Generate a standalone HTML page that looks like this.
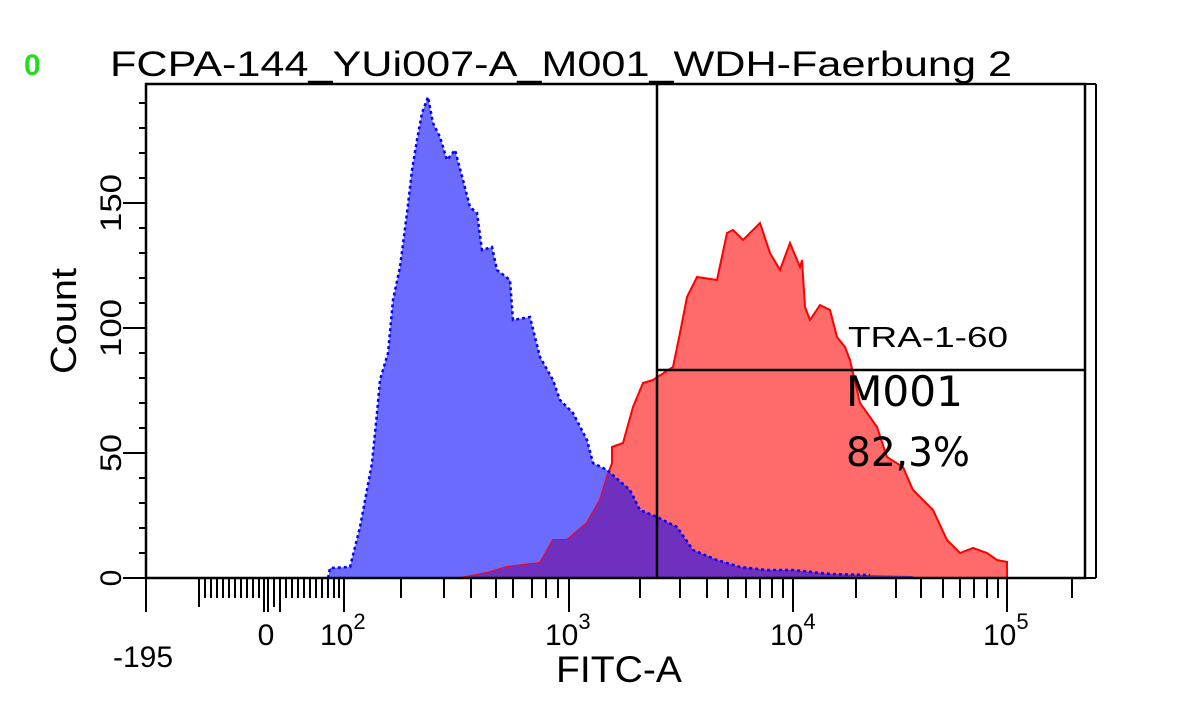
<!DOCTYPE html>
<html><head><meta charset="utf-8"><style>
html,body{margin:0;padding:0;background:#fff;}
svg{display:block;}
text{font-family:"Liberation Sans",Arial,sans-serif;fill:#000;}
</style></head><body>
<svg width="1178" height="720" viewBox="0 0 1178 720" xmlns="http://www.w3.org/2000/svg">
<defs>
<clipPath id="redclip"><polygon points="460,578 487,573 507,567 540,563 553,540 567,540 587,523 600,500 607,477 612,463 612,447 623,443 633,407 643,383 653,380 673,367 680,333 687,297 697,277 717,280 727,233 733,230 743,240 760,223 770,253 780,270 790,243 800,267 802,260 805,307 810,320 820,305 830,310 837,337 845,347 850,360 860,403 877,427 887,457 903,467 913,490 933,510 947,540 960,553 973,548 987,553 997,560 1007,562 1007,578"/></clipPath>
</defs>
<text x="24" y="75" font-size="30" font-weight="bold" style="fill:#22dd22">0</text>
<text x="110" y="76" font-size="35" textLength="902" lengthAdjust="spacingAndGlyphs">FCPA-144_YUi007-A_M001_WDH-Faerbung 2</text>
<polygon points="328,578 330,568 350,567 360,527 372,463 377,413 380,380 388,353 393,300 400,267 407,213 412,170 417,140 422,113 428,97 433,123 440,137 447,160 455,150 463,180 470,207 477,213 482,250 492,247 497,270 510,280 513,320 530,317 540,357 553,380 560,400 573,413 587,440 593,463 607,470 630,490 640,510 657,517 677,527 693,550 717,560 740,567 767,570 793,570 830,574 870,575 913,576 913,578" fill="#6b6bff"/>
<polygon points="460,578 487,573 507,567 540,563 553,540 567,540 587,523 600,500 607,477 612,463 612,447 623,443 633,407 643,383 653,380 673,367 680,333 687,297 697,277 717,280 727,233 733,230 743,240 760,223 770,253 780,270 790,243 800,267 802,260 805,307 810,320 820,305 830,310 837,337 845,347 850,360 860,403 877,427 887,457 903,467 913,490 933,510 947,540 960,553 973,548 987,553 997,560 1007,562 1007,578" fill="#ff6b6b" stroke="#ff0000" stroke-width="2"/>
<g clip-path="url(#redclip)">
<polygon points="328,578 330,568 350,567 360,527 372,463 377,413 380,380 388,353 393,300 400,267 407,213 412,170 417,140 422,113 428,97 433,123 440,137 447,160 455,150 463,180 470,207 477,213 482,250 492,247 497,270 510,280 513,320 530,317 540,357 553,380 560,400 573,413 587,440 593,463 607,470 630,490 640,510 657,517 677,527 693,550 717,560 740,567 767,570 793,570 830,574 870,575 913,576 913,578" fill="#6f30bf"/>
</g>
<polyline points="328,578 330,568 350,567 360,527 372,463 377,413 380,380 388,353 393,300 400,267 407,213 412,170 417,140 422,113 428,97 433,123 440,137 447,160 455,150 463,180 470,207 477,213 482,250 492,247 497,270 510,280 513,320 530,317 540,357 553,380 560,400 573,413 587,440 593,463 607,470 630,490 640,510 657,517 677,527 693,550 717,560 740,567 767,570 793,570 830,574 870,575" fill="none" stroke="#0000ff" stroke-width="2.5" stroke-dasharray="3,3"/>
<rect x="146" y="84" width="939" height="494" fill="none" stroke="#000" stroke-width="2.5"/>
<line x1="1096" y1="84" x2="1096" y2="578" stroke="#000" stroke-width="2"/>
<line x1="1085" y1="84" x2="1096" y2="84" stroke="#000" stroke-width="2"/>
<line x1="1085" y1="578" x2="1096" y2="578" stroke="#000" stroke-width="2"/>
<line x1="657" y1="84" x2="657" y2="578" stroke="#000" stroke-width="2.5"/>
<line x1="657" y1="370" x2="1085" y2="370" stroke="#000" stroke-width="2.5"/>
<text x="848" y="347" font-size="29" textLength="160" lengthAdjust="spacingAndGlyphs">TRA-1-60</text>
<text x="846" y="406" font-size="42" textLength="117" lengthAdjust="spacingAndGlyphs" style="font-family:'DejaVu Sans','Liberation Sans',sans-serif">M001</text>
<text x="846" y="466" font-size="40" textLength="124" lengthAdjust="spacingAndGlyphs" style="font-family:'DejaVu Sans','Liberation Sans',sans-serif">82,3%</text>
<g stroke="#000" stroke-width="2">
<line x1="123" y1="578" x2="146" y2="578"/><line x1="139" y1="553" x2="146" y2="553"/><line x1="139" y1="528" x2="146" y2="528"/><line x1="139" y1="503" x2="146" y2="503"/><line x1="139" y1="478" x2="146" y2="478"/>
<line x1="123" y1="453" x2="146" y2="453"/><line x1="139" y1="428" x2="146" y2="428"/><line x1="139" y1="403" x2="146" y2="403"/><line x1="139" y1="378" x2="146" y2="378"/><line x1="139" y1="353" x2="146" y2="353"/>
<line x1="123" y1="328" x2="146" y2="328"/><line x1="139" y1="303" x2="146" y2="303"/><line x1="139" y1="278" x2="146" y2="278"/><line x1="139" y1="253" x2="146" y2="253"/><line x1="139" y1="228" x2="146" y2="228"/>
<line x1="123" y1="203" x2="146" y2="203"/><line x1="139" y1="178" x2="146" y2="178"/><line x1="139" y1="153" x2="146" y2="153"/><line x1="139" y1="128" x2="146" y2="128"/><line x1="139" y1="103" x2="146" y2="103"/>
</g>
<g font-size="30">
<text transform="translate(121,578) rotate(-90)" text-anchor="middle">0</text>
<text transform="translate(121,453) rotate(-90)" text-anchor="middle" textLength="38" lengthAdjust="spacingAndGlyphs">50</text>
<text transform="translate(121,328) rotate(-90)" text-anchor="middle" textLength="58" lengthAdjust="spacingAndGlyphs">100</text>
<text transform="translate(121,203) rotate(-90)" text-anchor="middle" textLength="58" lengthAdjust="spacingAndGlyphs">150</text>
</g>
<text transform="translate(76,321) rotate(-90)" text-anchor="middle" font-size="36" textLength="106" lengthAdjust="spacingAndGlyphs">Count</text>
<g stroke="#000" stroke-width="2">
<line x1="146" y1="578" x2="146" y2="612"/>
<line x1="199" y1="578" x2="199" y2="607"/>
<line x1="205" y1="578" x2="205" y2="598"/><line x1="211" y1="578" x2="211" y2="598"/><line x1="217" y1="578" x2="217" y2="598"/><line x1="223" y1="578" x2="223" y2="598"/><line x1="229" y1="578" x2="229" y2="598"/><line x1="235" y1="578" x2="235" y2="598"/><line x1="241" y1="578" x2="241" y2="598"/><line x1="247" y1="578" x2="247" y2="598"/><line x1="253" y1="578" x2="253" y2="598"/><line x1="259" y1="578" x2="259" y2="598"/>
<line x1="264" y1="578" x2="264" y2="612"/><line x1="268" y1="578" x2="268" y2="612"/>
<line x1="274" y1="578" x2="274" y2="607"/><line x1="280" y1="578" x2="280" y2="612"/>
<line x1="286" y1="578" x2="286" y2="598"/><line x1="292" y1="578" x2="292" y2="598"/><line x1="298" y1="578" x2="298" y2="598"/><line x1="304" y1="578" x2="304" y2="598"/><line x1="310" y1="578" x2="310" y2="598"/><line x1="316" y1="578" x2="316" y2="598"/><line x1="322" y1="578" x2="322" y2="598"/><line x1="328" y1="578" x2="328" y2="598"/><line x1="334" y1="578" x2="334" y2="598"/><line x1="339" y1="578" x2="339" y2="598"/>
<line x1="344" y1="578" x2="344" y2="612"/>
<line x1="401" y1="578" x2="401" y2="598"/><line x1="444" y1="578" x2="444" y2="598"/><line x1="471" y1="578" x2="471" y2="598"/><line x1="496" y1="578" x2="496" y2="598"/><line x1="513" y1="578" x2="513" y2="598"/><line x1="532" y1="578" x2="532" y2="598"/><line x1="546" y1="578" x2="546" y2="598"/><line x1="558" y1="578" x2="558" y2="598"/>
<line x1="569" y1="578" x2="569" y2="612"/>
<line x1="640" y1="578" x2="640" y2="598"/><line x1="680" y1="578" x2="680" y2="598"/><line x1="707" y1="578" x2="707" y2="598"/><line x1="728" y1="578" x2="728" y2="598"/><line x1="746" y1="578" x2="746" y2="598"/><line x1="760" y1="578" x2="760" y2="598"/><line x1="772" y1="578" x2="772" y2="598"/><line x1="783" y1="578" x2="783" y2="598"/>
<line x1="793" y1="578" x2="793" y2="612"/>
<line x1="856" y1="578" x2="856" y2="598"/><line x1="896" y1="578" x2="896" y2="598"/><line x1="921" y1="578" x2="921" y2="598"/><line x1="943" y1="578" x2="943" y2="598"/><line x1="960" y1="578" x2="960" y2="598"/><line x1="974" y1="578" x2="974" y2="598"/><line x1="987" y1="578" x2="987" y2="598"/><line x1="998" y1="578" x2="998" y2="598"/>
<line x1="1007" y1="578" x2="1007" y2="612"/>
<line x1="1072" y1="578" x2="1072" y2="598"/>
</g>
<g font-size="30">
<text x="143" y="667" text-anchor="middle">-195</text>
<text x="266" y="645" text-anchor="middle">0</text>
<text x="320" y="645">10<tspan dy="-16" font-size="22">2</tspan></text>
<text x="545" y="645">10<tspan dy="-16" font-size="22">3</tspan></text>
<text x="770" y="645">10<tspan dy="-16" font-size="22">4</tspan></text>
<text x="983" y="645">10<tspan dy="-16" font-size="22">5</tspan></text>
</g>
<text x="556" y="682" font-size="37" textLength="126" lengthAdjust="spacingAndGlyphs">FITC-A</text>
</svg>
</body></html>
